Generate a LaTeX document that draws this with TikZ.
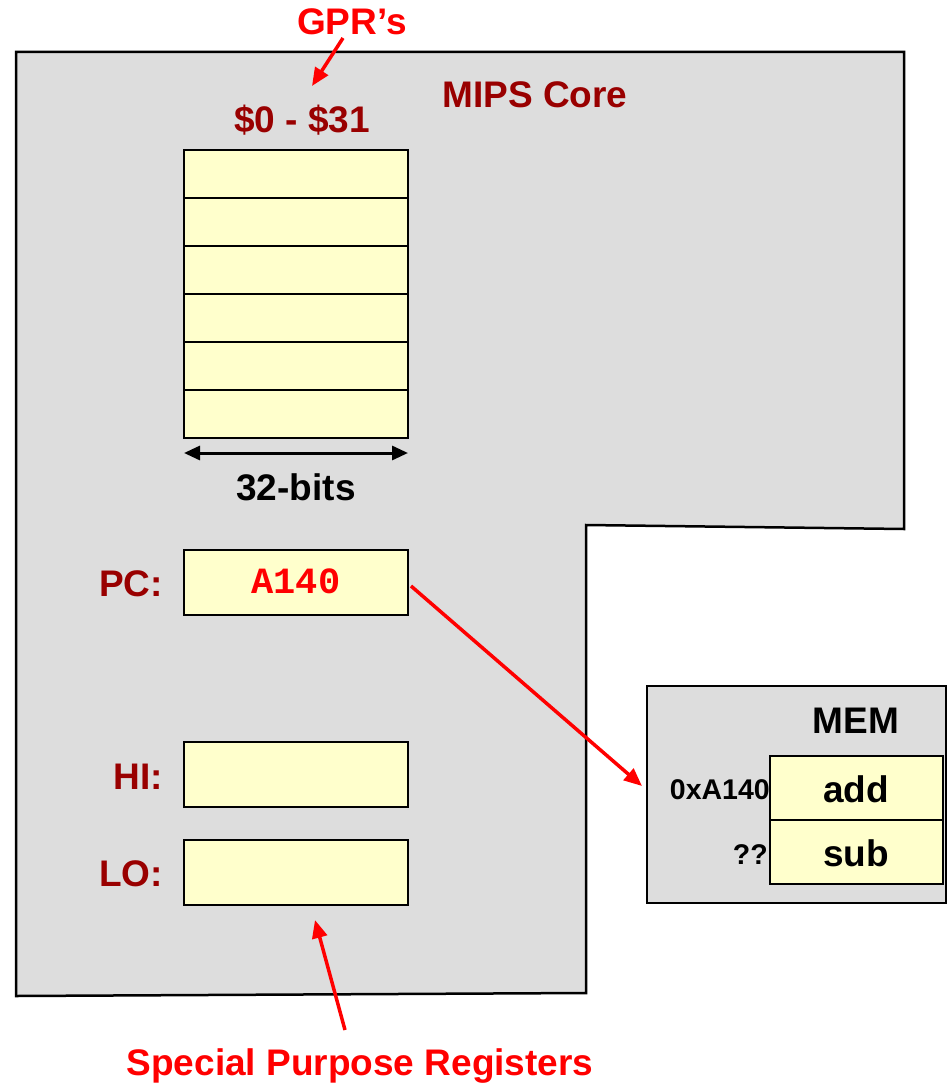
\documentclass[tikz,border=0pt]{standalone}
\usepackage{fontspec}
\setmainfont{Liberation Sans}
\setmonofont{Liberation Mono}
\usetikzlibrary{arrows.meta}
\definecolor{coregray}{HTML}{DDDDDD}
\definecolor{regyellow}{HTML}{FFFFCC}
\definecolor{darkred}{HTML}{990000}
\definecolor{brightred}{HTML}{FF0000}
\tikzset{
  big/.style={font=\fontsize{37}{40}\selectfont\bfseries, inner sep=0pt, anchor=base},
  small/.style={font=\fontsize{28.5}{32}\selectfont\bfseries, inner sep=0pt, anchor=base east},
  reg/.style={draw=black, fill=regyellow, line width=2pt, minimum width=224pt,
    inner sep=0pt, outer sep=0pt},
  gpr/.style={reg, minimum height=48pt},
  spr/.style={reg, minimum height=65pt},
  cell/.style={reg, minimum width=173pt, minimum height=64pt},
  redarrow/.style={draw=brightred, line width=3.5pt, -{Triangle[length=18pt,width=15pt]}},
  blackarrow/.style={draw=black, line width=3pt, {Triangle[length=16pt,width=14pt]}-{Triangle[length=16pt,width=14pt]}},
}
\begin{document}
\begin{tikzpicture}[x=1pt, y=-1pt]
\useasboundingbox (0,0) rectangle (946,1083);

% core outline with the notch on the lower right
\draw[fill=coregray, line width=2.5pt, line join=miter]
  (16,52) -- (904,52) -- (904,529) -- (586,525) -- (586,993) -- (16,996) -- cycle;

% memory block
\node[draw=black, fill=coregray, line width=2pt, minimum width=299pt, minimum height=217pt,
  inner sep=0pt, outer sep=0pt] (mem) at (796.5,794.5) {};

% general purpose register file
\node[gpr] (g1) at (296,174) {};
\node[gpr] (g2) at (296,222) {};
\node[gpr] (g3) at (296,270) {};
\node[gpr] (g4) at (296,318) {};
\node[gpr] (g5) at (296,366) {};
\node[gpr] (g6) at (296,414) {};

% special purpose registers
\node[spr] (pc) at (296,582.5) {};
\node[spr] (hi) at (296,774.5) {};
\node[spr] (lo) at (296,872.5) {};

% memory cells
\node[cell] (c1) at (856.5,788) {};
\node[cell] (c2) at (856.5,852) {};

% labels
\node[big, text=brightred] (gprs) at (352,35) {GPR’s};
\node[big, text=darkred] (range) at (302,133) {\$0 - \$31};
\node[big, text=darkred] (core) at (535,108) {MIPS Core};
\node[big] (bits) at (296,500) {32-bits};
\node[big, text=darkred, anchor=base east] (pclbl) at (163,596) {PC:};
\node[big, text=darkred, anchor=base east] (hilbl) at (163,789) {HI:};
\node[big, text=darkred, anchor=base east] (lolbl) at (163,886) {LO:};
\node[big, text=brightred, font=\fontsize{37}{40}\selectfont\ttfamily\bfseries] (pcval) at (296,593) {A140};
\node[big] (memlbl) at (856,733) {MEM};
\node[big] (add) at (856,802) {add};
\node[big] (sub) at (856,866) {sub};
\node[small] (addr1) at (770,799) {0xA140};
\node[small] (addr2) at (768,864) {??};
\node[big, text=brightred] (sprlbl) at (360,1075) {Special Purpose Registers};

% width marker under the register file
\coordinate (wl) at (184,453);
\coordinate (wr) at (408,453);
\draw[blackarrow] (wl) -- (wr);

% pointers
\coordinate (gtail) at (343,38);
\coordinate (ghead) at (312,86);
\draw[redarrow] (gtail) -- (ghead);

\coordinate (ptail) at (411,586);
\coordinate (phead) at (642,786);
\draw[redarrow] (ptail) -- (phead);

\coordinate (stail) at (345,1030);
\coordinate (shead) at (315,920);
\draw[redarrow] (stail) -- (shead);
\end{tikzpicture}
\end{document}
